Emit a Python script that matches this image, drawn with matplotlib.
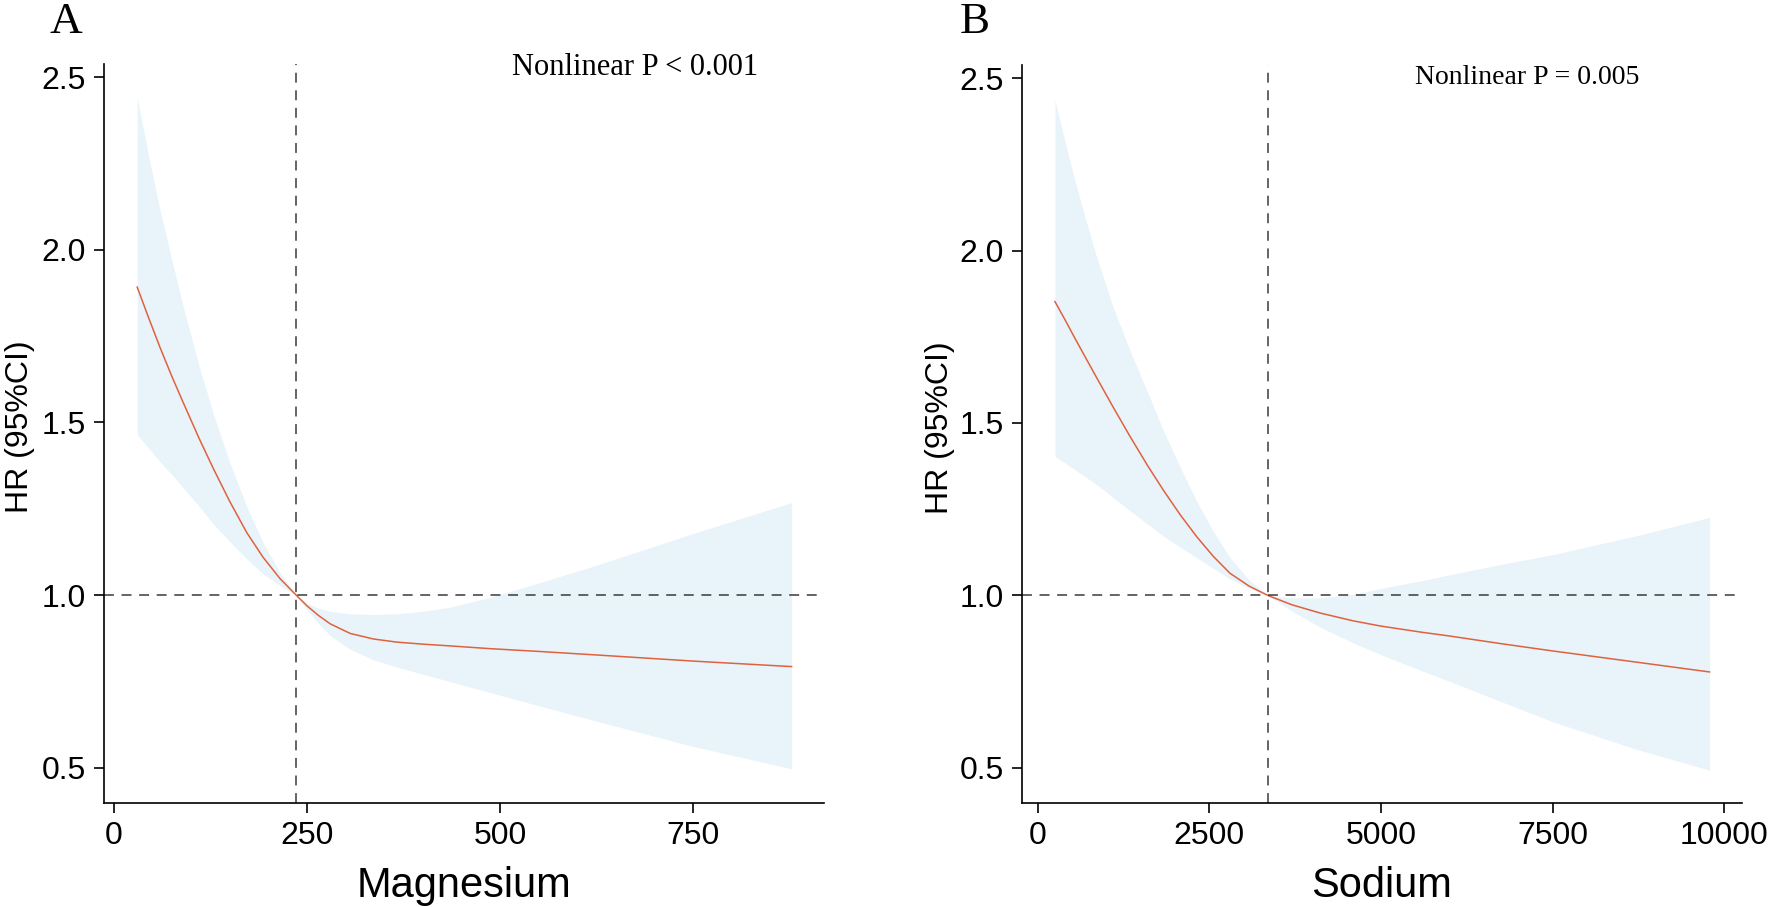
import numpy as np
import matplotlib
matplotlib.use("Agg")
import matplotlib.pyplot as plt

plt.rcParams['font.family'] = ['Liberation Sans', 'DejaVu Sans']

# panel A: magnesium
mg_x = [30, 45, 60, 75, 88, 110, 129, 150, 172, 193, 215, 236, 250, 265, 280, 306,
        336, 366, 400, 435, 487, 550, 630, 750, 878]
mg_hr = [1.892, 1.802, 1.715, 1.633, 1.566, 1.455, 1.365, 1.271, 1.181, 1.11, 1.048, 1.0,
         0.969, 0.941, 0.917, 0.889, 0.873, 0.864, 0.858, 0.853, 0.845, 0.837, 0.826,
         0.809, 0.793]
mg_lo = [1.465, 1.425, 1.385, 1.349, 1.315, 1.258, 1.205, 1.155, 1.105, 1.062, 1.028, 1.0,
         0.958, 0.918, 0.883, 0.843, 0.813, 0.792, 0.771, 0.75, 0.718, 0.68, 0.632,
         0.562, 0.497]
mg_hi = [2.44, 2.27, 2.11, 1.97, 1.85, 1.664, 1.523, 1.384, 1.256, 1.153, 1.065, 1.0,
         0.977, 0.962, 0.953, 0.946, 0.944, 0.946, 0.953, 0.965, 0.993, 1.035, 1.09,
         1.178, 1.268]
mg_ref = 236
mg_ticks = [0, 250, 500, 750]

# panel B: sodium
na_x = [253, 400, 540, 700, 861, 1100, 1346, 1600, 1832, 2080, 2318, 2560, 2803, 3080,
        3352, 3700, 4112, 4600, 4999, 5600, 6008, 6750, 7498, 8700, 9786]
na_hr = [1.852, 1.799, 1.747, 1.689, 1.631, 1.546, 1.461, 1.377, 1.305, 1.233, 1.17,
         1.113, 1.064, 1.027, 1.0, 0.973, 0.949, 0.926, 0.911, 0.893, 0.882, 0.86,
         0.839, 0.807, 0.778]
na_lo = [1.403, 1.384, 1.365, 1.343, 1.321, 1.284, 1.246, 1.207, 1.172, 1.14, 1.109,
         1.078, 1.048, 1.021, 1.0, 0.955, 0.908, 0.862, 0.828, 0.781, 0.75, 0.692,
         0.634, 0.555, 0.493]
na_hi = [2.436, 2.315, 2.205, 2.09, 1.98, 1.835, 1.71, 1.59, 1.478, 1.37, 1.273, 1.185,
         1.109, 1.045, 1.0, 0.993, 0.993, 1.003, 1.02, 1.043, 1.06, 1.09, 1.118, 1.172,
         1.226]
na_ref = 3352
na_ticks = [0, 2500, 5000, 7500, 10000]

y_ticks = [0.5, 1.0, 1.5, 2.0, 2.5]

W, H = 1772, 907
fig = plt.figure(figsize=(W / 100, H / 100), dpi=100)

band_col = '#E8F4FA'
line_col = '#E0613D'
dash_col = '#3A3A3A'


def panel(rect, x, hr, lo, hi, ref, xticks, xlim, xlab, ptext, ppos, psize, ylab_x):
    ax = fig.add_axes(rect)
    ax.fill_between(x, lo, hi, color=band_col, lw=0)
    ax.plot(x, hr, color=line_col, lw=1.1)
    ax.axhline(1.0, color=dash_col, lw=1.1, dashes=(6.5, 5))
    ax.axvline(ref, color=dash_col, lw=1.1, dashes=(6.5, 5))
    ax.set_xlim(*xlim)
    ax.set_ylim(0.398, 2.538)
    ax.set_xticks(xticks)
    ax.set_yticks(y_ticks)
    ax.set_yticklabels([f'{v:.1f}' for v in y_ticks])
    for s in ['top', 'right']:
        ax.spines[s].set_visible(False)
    for s in ['left', 'bottom']:
        ax.spines[s].set_linewidth(1.2)
    ax.tick_params(length=7.2, width=1.2, labelsize=23, pad=6)
    ax.set_xlabel(xlab, fontsize=30)
    ax.xaxis.label.set_va('baseline')
    ax.xaxis.set_label_coords(0.5, -0.1268)
    ax.set_ylabel('HR (95%CI)', fontsize=23)
    ax.yaxis.label.set_rotation_mode('anchor')
    ax.yaxis.label.set_va('baseline')
    ax.yaxis.set_label_coords(ylab_x, 0.509)
    ax.text(ppos[0], ppos[1], ptext, transform=ax.transAxes, ha='center', va='baseline',
            fontsize=psize, family=['Liberation Serif', 'DejaVu Serif'])
    return ax


panel([104 / W, 1 - 803 / H, 720 / W, 739 / H], mg_x, mg_hr, mg_lo, mg_hi, mg_ref,
      mg_ticks, (-13, 920), 'Magnesium', 'Nonlinear P < 0.001', (0.738, 0.985), 22, -0.1056)
panel([1022 / W, 1 - 803 / H, 720 / W, 738 / H], na_x, na_hr, na_lo, na_hi, na_ref,
      na_ticks, (-227, 10258), 'Sodium', 'Nonlinear P = 0.005', (0.701, 0.974), 20, -0.1028)

fig.text(50 / W, 1 - 33 / H, 'A', fontsize=32.5, ha='left', va='baseline',
         family=['Liberation Serif', 'DejaVu Serif'])
fig.text(960 / W, 1 - 33 / H, 'B', fontsize=32.5, ha='left', va='baseline',
         family=['Liberation Serif', 'DejaVu Serif'])

fig.savefig('out.png', dpi=100)
